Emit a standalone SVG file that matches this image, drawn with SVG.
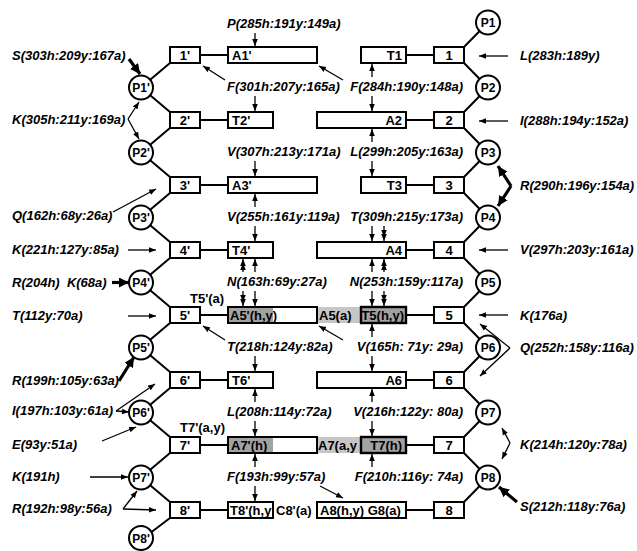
<svg xmlns="http://www.w3.org/2000/svg" width="637" height="551" viewBox="0 0 637 551">
<defs>
<marker id="ah" viewBox="0 0 10 10" refX="10" refY="5" markerWidth="7" markerHeight="7" markerUnits="userSpaceOnUse" orient="auto"><path d="M0,1 L10,5 L0,9 z" fill="#000"/></marker>
<marker id="aht" viewBox="0 0 10 10" refX="10" refY="5" markerWidth="10" markerHeight="10" markerUnits="userSpaceOnUse" orient="auto"><path d="M0,0 L10,5 L0,10 z" fill="#000"/></marker>
</defs>
<style>
.bx{fill:#fff;stroke:#000;stroke-width:2}
.pc{fill:#fff;stroke:#000;stroke-width:2}
.ln{stroke:#000;stroke-width:2;fill:none}
.ar{stroke:#000;stroke-width:1.3;fill:none;marker-end:url(#ah)}
.dar{stroke:#000;stroke-width:1.3;fill:none;marker-mid:url(#ah);marker-end:url(#ah)}
.tk{stroke:#000;stroke-width:3.2;fill:none;marker-end:url(#aht)}
.dk{fill:#a2a2a2}
.lt{fill:#c6c6c6}
.sh{fill:#a2a2a2;stroke:#000;stroke-width:2.4}
.nl{font-family:"Liberation Sans",Arial,sans-serif;font-weight:bold;font-size:13px;fill:#000}
.c{text-anchor:middle}
.e{text-anchor:end}
.lb{font-family:"Liberation Sans",Arial,sans-serif;font-weight:bold;font-style:italic;font-size:13px;fill:#000}
.pre{white-space:pre}
.pl{font-family:"Liberation Sans",Arial,sans-serif;font-weight:bold;font-size:12px;text-anchor:middle;fill:#000}
</style>
<rect width="637" height="551" fill="#fff"/>

<g id="connectors">
<path class="ln" d="M141,87.5 L170,63 M141,87.5 L170,112 M141,152.5 L170,128 M141,152.5 L170,177 M141,217.5 L170,193 M141,217.5 L170,242 M141,282.5 L170,258 M141,282.5 L170,307 M141,347.5 L170,323 M141,347.5 L170,372 M141,412.5 L170,388 M141,412.5 L170,437 M141,477.5 L170,453 M141,477.5 L170,502 M141,540 L170,518"/>
<path class="ln" d="M488,22.5 L464,47 M488,87.5 L464,63 M488,87.5 L464,112 M488,152.5 L464,128 M488,152.5 L464,177 M488,217.5 L464,193 M488,217.5 L464,242 M488,282.5 L464,258 M488,282.5 L464,307 M488,347.5 L464,323 M488,347.5 L464,372 M488,412.5 L464,388 M488,412.5 L464,437 M488,477.5 L464,453 M488,477.5 L464,502"/>
<path class="ln" d="M200,55 H228 M200,120 H228 M200,185 H228 M200,250 H228 M200,315 H228 M200,380 H228 M200,445 H228 M200,510 H228 M406,55 H434 M406,120 H434 M406,185 H434 M406,250 H434 M406,315 H434 M406,380 H434 M406,445 H434 M406,510 H434"/>

<path class="ar" d="M255,33 V46"/>
<path class="ar" d="M255,96 V111"/>
<path class="ar" d="M255,161 V176"/>
<path class="ar" d="M255,207 V194"/>
<path class="ar" d="M255,226 V241"/>
<path class="ar" d="M255,272 V259"/>
<path class="dar" d="M243,272 V263 V259"/>
<path class="ar" d="M255,291 V306"/>
<path class="dar" d="M243,291 V302 V306"/>
<path class="ar" d="M255,356 V371"/>
<path class="ar" d="M255,402 V389"/>
<path class="ar" d="M255,421 V436"/>
<path class="ar" d="M255,467 V454"/>
<path class="ar" d="M255,486 V501"/>
<path class="ar" d="M372,77 V64"/>
<path class="ar" d="M372,96 V111"/>
<path class="ar" d="M372,142 V129"/>
<path class="ar" d="M372,161 V176"/>
<path class="ar" d="M372,226 V241"/>
<path class="dar" d="M384,226 V237 V241"/>
<path class="ar" d="M372,272 V259"/>
<path class="dar" d="M384,272 V263 V259"/>
<path class="ar" d="M372,291 V306"/>
<path class="dar" d="M384,291 V302 V306"/>
<path class="ar" d="M372,337 V324"/>
<path class="ar" d="M372,356 V371"/>
<path class="ar" d="M372,402 V389"/>
<path class="ar" d="M372,421 V436"/>
<path class="ar" d="M372,467 V454"/>
<path class="ar" d="M225,80 L203,66"/>
<path class="ar" d="M343,80 L319,66"/>
<path class="ar" d="M225,340 L203,326"/>
<path class="ar" d="M343,340 L319,326"/>
<path class="ar" d="M320,486 L343,498"/>
<path class="tk" d="M129,59 L140,74"/>
<path class="ar" d="M128,119 L139,102"/>
<path class="ar" d="M128,119 L139,139"/>
<path class="ar" d="M113,212 L156,189"/>
<path class="ar" d="M128,250 L156,250"/>
<path class="tk" d="M112,282.5 L129,282.5"/>
<path class="ar" d="M128,316 L156,316"/>
<path class="tk" d="M119,381 L134,357"/>
<path class="ar" d="M116,411 L155,384"/>
<path class="ar" d="M116,411 L129,412"/>
<path class="ar" d="M102,441 L136,427"/>
<path class="ar" d="M90,477 L128,477"/>
<path class="ar" d="M123,509 L137,491"/>
<path class="ar" d="M123,509 L156,510"/>
<path class="ar" d="M508,56 L479,56"/>
<path class="ar" d="M508,121 L479,121"/>
<path class="tk" d="M511,186 L498,166"/>
<path class="tk" d="M511,186 L498,206"/>
<path class="ar" d="M508,250 L479,250"/>
<path class="ar" d="M508,315 L479,315"/>
<path class="ar" d="M510,348 L480,324"/>
<path class="ar" d="M510,348 L480,376"/>
<path class="ar" d="M510,443 L502,428"/>
<path class="ar" d="M510,443 L502,459"/>
<path class="tk" d="M517,502 L499,487"/>
</g>

<g id="P1p"><circle class="pc" cx="141" cy="87.5" r="12"/><text class="pl" x="141" y="92">P1'</text></g>
<g id="P2p"><circle class="pc" cx="141" cy="152.5" r="12"/><text class="pl" x="141" y="157">P2'</text></g>
<g id="P3p"><circle class="pc" cx="141" cy="217.5" r="12"/><text class="pl" x="141" y="222">P3'</text></g>
<g id="P4p"><circle class="pc" cx="141" cy="282.5" r="12"/><text class="pl" x="141" y="287">P4'</text></g>
<g id="P5p"><circle class="pc" cx="141" cy="347.5" r="12"/><text class="pl" x="141" y="352">P5'</text></g>
<g id="P6p"><circle class="pc" cx="141" cy="412.5" r="12"/><text class="pl" x="141" y="417">P6'</text></g>
<g id="P7p"><circle class="pc" cx="141" cy="477.5" r="12"/><text class="pl" x="141" y="482">P7'</text></g>
<g id="P8p"><circle class="pc" cx="141" cy="538" r="12"/><text class="pl" x="141" y="542.5">P8'</text></g>
<g id="P1"><circle class="pc" cx="488" cy="22.5" r="12"/><text class="pl" x="488" y="27">P1</text></g>
<g id="P2"><circle class="pc" cx="488" cy="87.5" r="12"/><text class="pl" x="488" y="92">P2</text></g>
<g id="P3"><circle class="pc" cx="488" cy="152.5" r="12"/><text class="pl" x="488" y="157">P3</text></g>
<g id="P4"><circle class="pc" cx="488" cy="217.5" r="12"/><text class="pl" x="488" y="222">P4</text></g>
<g id="P5"><circle class="pc" cx="488" cy="282.5" r="12"/><text class="pl" x="488" y="287">P5</text></g>
<g id="P6"><circle class="pc" cx="488" cy="347.5" r="12"/><text class="pl" x="488" y="352">P6</text></g>
<g id="P7"><circle class="pc" cx="488" cy="412.5" r="12"/><text class="pl" x="488" y="417">P7</text></g>
<g id="P8"><circle class="pc" cx="488" cy="477.5" r="12"/><text class="pl" x="488" y="482">P8</text></g>

<g id="b1p"><rect class="bx" x="170" y="47" width="30" height="16"/><text class="nl c" x="185" y="60">1'</text></g>
<g id="b2p"><rect class="bx" x="170" y="112" width="30" height="16"/><text class="nl c" x="185" y="125">2'</text></g>
<g id="b3p"><rect class="bx" x="170" y="177" width="30" height="16"/><text class="nl c" x="185" y="190">3'</text></g>
<g id="b4p"><rect class="bx" x="170" y="242" width="30" height="16"/><text class="nl c" x="185" y="255">4'</text></g>
<g id="b5p"><rect class="bx" x="170" y="307" width="30" height="16"/><text class="nl c" x="185" y="320">5'</text></g>
<g id="b6p"><rect class="bx" x="170" y="372" width="30" height="16"/><text class="nl c" x="185" y="385">6'</text></g>
<g id="b7p"><rect class="bx" x="170" y="437" width="30" height="16"/><text class="nl c" x="185" y="450">7'</text></g>
<g id="b8p"><rect class="bx" x="170" y="502" width="30" height="16"/><text class="nl c" x="185" y="515">8'</text></g>
<g id="b1"><rect class="bx" x="434" y="47" width="30" height="16"/><text class="nl c" x="449" y="60">1</text></g>
<g id="b2"><rect class="bx" x="434" y="112" width="30" height="16"/><text class="nl c" x="449" y="125">2</text></g>
<g id="b3"><rect class="bx" x="434" y="177" width="30" height="16"/><text class="nl c" x="449" y="190">3</text></g>
<g id="b4"><rect class="bx" x="434" y="242" width="30" height="16"/><text class="nl c" x="449" y="255">4</text></g>
<g id="b5"><rect class="bx" x="434" y="307" width="30" height="16"/><text class="nl c" x="449" y="320">5</text></g>
<g id="b6"><rect class="bx" x="434" y="372" width="30" height="16"/><text class="nl c" x="449" y="385">6</text></g>
<g id="b7"><rect class="bx" x="434" y="437" width="30" height="16"/><text class="nl c" x="449" y="450">7</text></g>
<g id="b8"><rect class="bx" x="434" y="502" width="30" height="16"/><text class="nl c" x="449" y="515">8</text></g>

<g id="A1p"><rect class="bx" x="228" y="47" width="89" height="16"/><text class="nl" x="232" y="60">A1'</text></g>
<g id="T2p"><rect class="bx" x="228" y="112" width="45" height="16"/><text class="nl" x="232" y="125">T2'</text></g>
<g id="A3p"><rect class="bx" x="228" y="177" width="89" height="16"/><text class="nl" x="232" y="190">A3'</text></g>
<g id="T4p"><rect class="bx" x="228" y="242" width="45" height="16"/><text class="nl" x="232" y="255">T4'</text></g>
<g id="A5p"><rect class="bx" x="228" y="307" width="89" height="16"/><rect class="dk" x="229" y="308" width="44" height="14"/><text class="nl" x="230" y="320">A5'(h,y)</text></g>
<g id="T6p"><rect class="bx" x="228" y="372" width="45" height="16"/><text class="nl" x="232" y="385">T6'</text></g>
<g id="A7p"><rect class="bx" x="228" y="437" width="89" height="16"/><rect class="dk" x="229" y="438" width="44" height="14"/><text class="nl" x="231" y="450">A7'(h)</text></g>
<g id="T8p"><rect class="bx" x="228" y="502" width="45" height="16"/><text class="nl" x="230" y="515">T8'(h,y</text></g>
<g id="T1"><rect class="bx" x="361" y="47" width="45" height="16"/><text class="nl e" x="402" y="60">T1</text></g>
<g id="A2"><rect class="bx" x="317" y="112" width="89" height="16"/><text class="nl e" x="402" y="125">A2</text></g>
<g id="T3"><rect class="bx" x="361" y="177" width="45" height="16"/><text class="nl e" x="402" y="190">T3</text></g>
<g id="A4"><rect class="bx" x="317" y="242" width="89" height="16"/><text class="nl e" x="402" y="255">A4</text></g>
<g id="A5"><rect class="lt" x="318" y="307" width="43" height="16"/><text class="nl" x="319" y="320">A5(a)</text></g>
<g id="T5"><rect class="sh" x="361" y="307" width="45" height="16"/><text class="nl e" x="404" y="320">T5(h,y)</text></g>
<g id="A6"><rect class="bx" x="317" y="372" width="89" height="16"/><text class="nl e" x="402" y="385">A6</text></g>
<g id="A7"><rect class="lt" x="318" y="437" width="43" height="16"/><text class="nl" x="318" y="450">A7(a,y</text></g>
<g id="T7"><rect class="sh" x="361" y="437" width="45" height="16"/><text class="nl e" x="402" y="450">T7(h)</text></g>
<g id="A8"><rect class="bx" x="317" y="502" width="89" height="16"/><text class="nl" x="320" y="515">A8(h,y) G8(a)</text></g>

<g id="labels">
<text class="nl" x="190" y="303">T5'(a)</text>
<text class="nl" x="180" y="432">T7'(a,y)</text>
<text class="nl" x="276" y="515">C8'(a)</text>
<text class="lb" x="227" y="28">P(285h:191y:149a)</text>
<text class="lb" x="227" y="91">F(301h:207y:165a)</text>
<text class="lb" x="227" y="156">V(307h:213y:171a)</text>
<text class="lb" x="227" y="221">V(255h:161y:119a)</text>
<text class="lb" x="227" y="286">N(163h:69y:27a)</text>
<text class="lb" x="227" y="351">T(218h:124y:82a)</text>
<text class="lb" x="227" y="416">L(208h:114y:72a)</text>
<text class="lb" x="227" y="481">F(193h:99y:57a)</text>
<text class="lb e" x="463" y="91">F(284h:190y:148a)</text>
<text class="lb e" x="463" y="156">L(299h:205y:163a)</text>
<text class="lb e" x="463" y="221">T(309h:215y:173a)</text>
<text class="lb e" x="463" y="286">N(253h:159y:117a)</text>
<text class="lb e" x="463" y="351">V(165h: 71y: 29a)</text>
<text class="lb e" x="463" y="416">V(216h:122y: 80a)</text>
<text class="lb e" x="463" y="481">F(210h:116y: 74a)</text>
<text class="lb" x="12" y="60">S(303h:209y:167a)</text>
<text class="lb" x="12" y="124">K(305h:211y:169a)</text>
<text class="lb" x="12" y="220">Q(162h:68y:26a)</text>
<text class="lb" x="12" y="254">K(221h:127y:85a)</text>
<text class="lb pre" x="12" y="287" xml:space="preserve">R(204h)  K(68a)</text>
<text class="lb" x="12" y="320">T(112y:70a)</text>
<text class="lb" x="12" y="385">R(199h:105y:63a)</text>
<text class="lb" x="12" y="415">I(197h:103y:61a)</text>
<text class="lb" x="12" y="449">E(93y:51a)</text>
<text class="lb" x="12" y="481">K(191h)</text>
<text class="lb" x="12" y="513">R(192h:98y:56a)</text>
<text class="lb" x="520" y="60">L(283h:189y)</text>
<text class="lb" x="520" y="125">I(288h:194y:152a)</text>
<text class="lb" x="520" y="190">R(290h:196y:154a)</text>
<text class="lb" x="520" y="254">V(297h:203y:161a)</text>
<text class="lb" x="520" y="320">K(176a)</text>
<text class="lb" x="520" y="352">Q(252h:158y:116a)</text>
<text class="lb" x="520" y="449">K(214h:120y:78a)</text>
<text class="lb" x="520" y="511">S(212h:118y:76a)</text>
</g>
</svg>
